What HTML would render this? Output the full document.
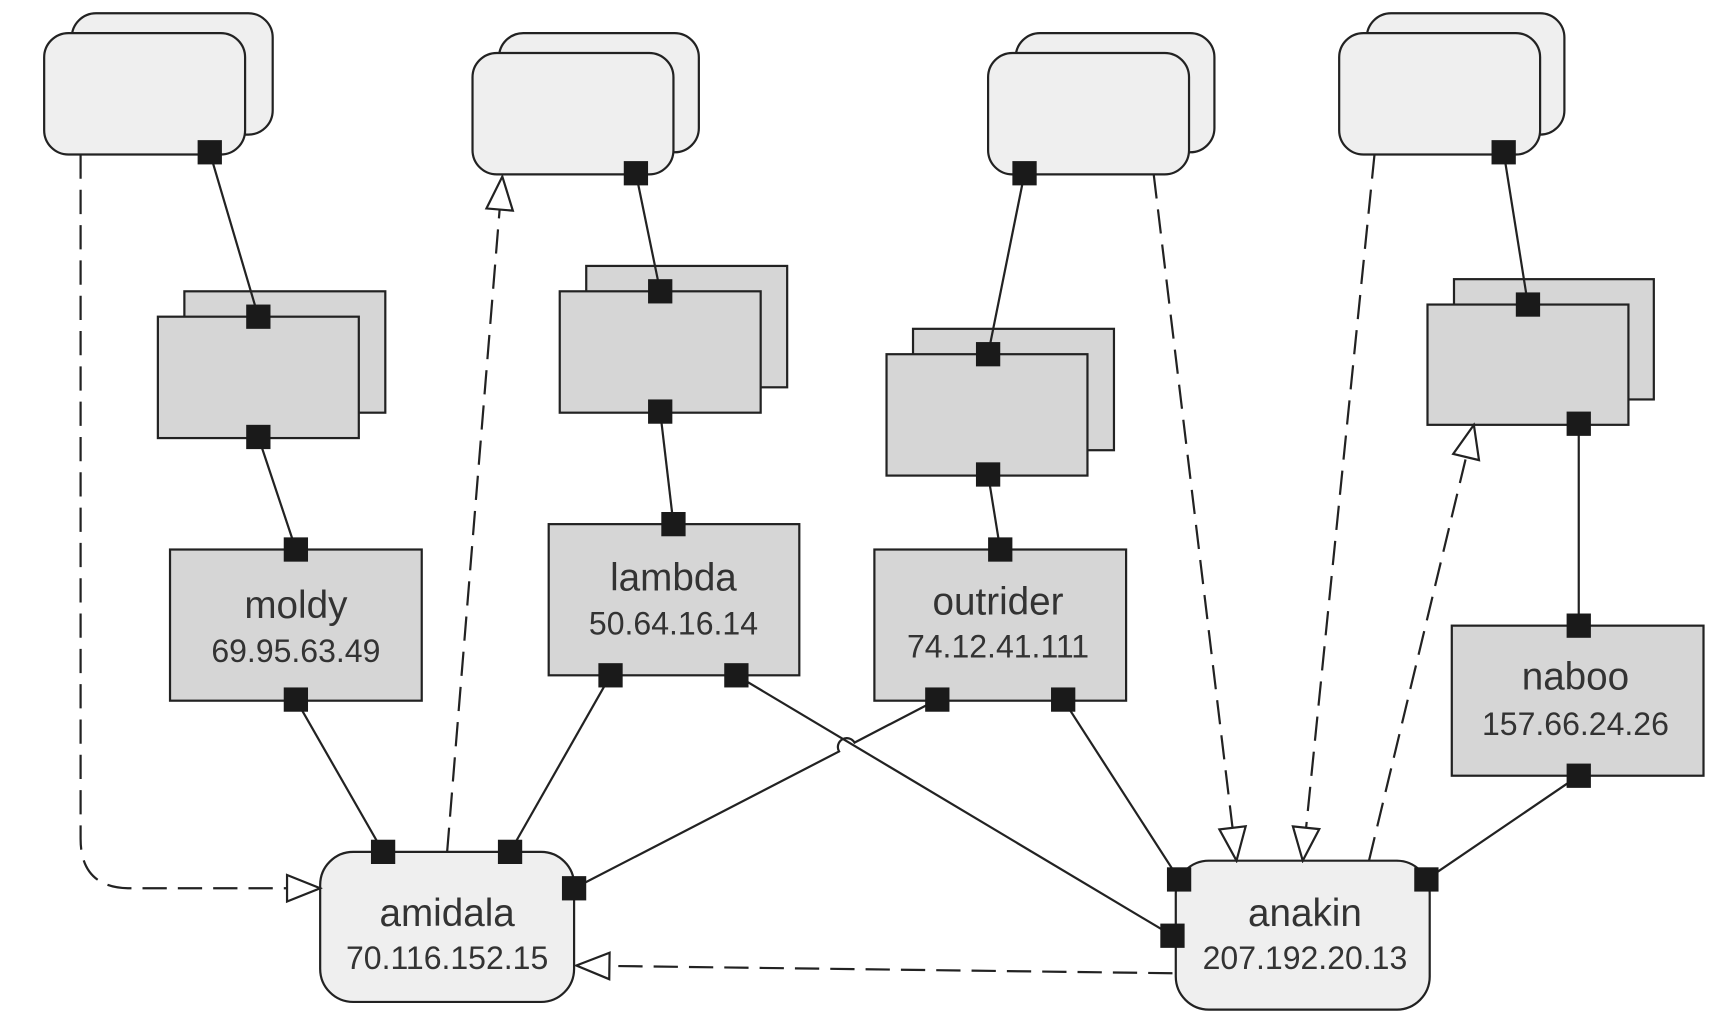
<!DOCTYPE html>
<html><head><style>html,body{margin:0;padding:0;background:#fff;}svg{display:block}</style></head>
<body>
<svg width="1730" height="1024" viewBox="0 0 1567 928" preserveAspectRatio="none" xmlns="http://www.w3.org/2000/svg">
<defs>
<marker id="tri" markerWidth="34" markerHeight="28" refX="32" refY="14" orient="auto" markerUnits="userSpaceOnUse">
<path d="M2,2 L32,14 L2,26 Z" fill="#fff" stroke="#222" stroke-width="2"/>
</marker>
</defs>
<g stroke="#222" stroke-width="2">
<rect x="65" y="12" width="182" height="110" rx="22" fill="#efefef"/>
<rect x="40" y="30" width="182" height="110" rx="22" fill="#efefef"/>
<rect x="452" y="30" width="181" height="108" rx="22" fill="#efefef"/>
<rect x="428" y="48" width="182" height="110" rx="22" fill="#efefef"/>
<rect x="920" y="30" width="180" height="108" rx="22" fill="#efefef"/>
<rect x="895" y="48" width="182" height="110" rx="22" fill="#efefef"/>
<rect x="1238" y="12" width="179" height="110" rx="22" fill="#efefef"/>
<rect x="1213" y="30" width="182" height="110" rx="22" fill="#efefef"/>
<rect x="167" y="264" width="182" height="110" fill="#d6d6d6"/>
<rect x="143" y="287" width="182" height="110" fill="#d6d6d6"/>
<rect x="531" y="241" width="182" height="110" fill="#d6d6d6"/>
<rect x="507" y="264" width="182" height="110" fill="#d6d6d6"/>
<rect x="827" y="298" width="182" height="110" fill="#d6d6d6"/>
<rect x="803" y="321" width="182" height="110" fill="#d6d6d6"/>
<rect x="1317" y="253" width="181" height="109" fill="#d6d6d6"/>
<rect x="1293" y="276" width="182" height="109" fill="#d6d6d6"/>
<rect x="154" y="498" width="228" height="137" fill="#d6d6d6"/>
<rect x="497" y="475" width="227" height="137" fill="#d6d6d6"/>
<rect x="792" y="498" width="228" height="137" fill="#d6d6d6"/>
<rect x="1315" y="567" width="228" height="136" fill="#d6d6d6"/>
<rect x="290" y="772" width="230" height="136" rx="30" fill="#efefef"/>
<rect x="1065" y="780" width="230" height="135" rx="30" fill="#efefef"/>
</g>
<g stroke="#222" stroke-width="2" fill="none">
<line x1="190" y1="138" x2="234" y2="287"/>
<line x1="234" y1="396" x2="268" y2="498"/>
<line x1="268" y1="634" x2="347" y2="772"/>
<line x1="576" y1="157" x2="598" y2="264"/>
<line x1="598" y1="373" x2="610" y2="475"/>
<line x1="553" y1="612" x2="462" y2="772"/>
<line x1="667" y1="612" x2="1062" y2="848"/>
<path d="M849,634 L774,673 A8,8 0 0 0 760,681 L520,805"/>
<line x1="928" y1="157" x2="895" y2="321"/>
<line x1="895" y1="430" x2="906" y2="498"/>
<line x1="963" y1="634" x2="1068" y2="797"/>
<line x1="1362" y1="138" x2="1384" y2="276"/>
<line x1="1430" y1="384" x2="1430" y2="567"/>
<line x1="1430" y1="703" x2="1292" y2="797"/>
</g>
<g stroke="#222" stroke-width="2" fill="none" stroke-dasharray="22,10">
<path d="M73,140 L73,760 Q73,805 118,805 L290,805" marker-end="url(#tri)"/>
<path d="M405,772 L455,160" marker-end="url(#tri)"/>
<path d="M1045,158 L1120,780" marker-end="url(#tri)"/>
<path d="M1245,140 L1180,780" marker-end="url(#tri)"/>
<path d="M1240,780 L1335,385" marker-end="url(#tri)"/>
<path d="M1062,882 L522,875" marker-end="url(#tri)"/>
</g>
<g fill="#1a1a1a">
<rect x="179" y="127" width="22" height="22"/>
<rect x="565" y="146" width="22" height="22"/>
<rect x="917" y="146" width="22" height="22"/>
<rect x="1351" y="127" width="22" height="22"/>
<rect x="223" y="276" width="22" height="22"/>
<rect x="223" y="385" width="22" height="22"/>
<rect x="587" y="253" width="22" height="22"/>
<rect x="587" y="362" width="22" height="22"/>
<rect x="884" y="310" width="22" height="22"/>
<rect x="884" y="419" width="22" height="22"/>
<rect x="1373" y="265" width="22" height="22"/>
<rect x="1419" y="373" width="22" height="22"/>
<rect x="257" y="487" width="22" height="22"/>
<rect x="257" y="623" width="22" height="22"/>
<rect x="599" y="464" width="22" height="22"/>
<rect x="542" y="601" width="22" height="22"/>
<rect x="656" y="601" width="22" height="22"/>
<rect x="895" y="487" width="22" height="22"/>
<rect x="838" y="623" width="22" height="22"/>
<rect x="952" y="623" width="22" height="22"/>
<rect x="1419" y="556" width="22" height="22"/>
<rect x="1419" y="692" width="22" height="22"/>
<rect x="336" y="761" width="22" height="22"/>
<rect x="451" y="761" width="22" height="22"/>
<rect x="509" y="794" width="22" height="22"/>
<rect x="1057" y="786" width="22" height="22"/>
<rect x="1051" y="837" width="22" height="22"/>
<rect x="1281" y="786" width="22" height="22"/>
</g>
<g font-family="Liberation Sans, sans-serif" fill="#333" text-anchor="middle">
<text x="268" y="560" font-size="35">moldy</text>
<text x="268" y="600" font-size="29">69.95.63.49</text>
<text x="610" y="535" font-size="35">lambda</text>
<text x="610" y="575" font-size="29">50.64.16.14</text>
<text x="904" y="557" font-size="35">outrider</text>
<text x="904" y="596" font-size="29">74.12.41.111</text>
<text x="1427" y="625" font-size="35">naboo</text>
<text x="1427" y="666" font-size="29">157.66.24.26</text>
<text x="405" y="839" font-size="35">amidala</text>
<text x="405" y="878" font-size="29">70.116.152.15</text>
<text x="1182" y="839" font-size="35">anakin</text>
<text x="1182" y="878" font-size="29">207.192.20.13</text>
</g>
</svg>
</body></html>
